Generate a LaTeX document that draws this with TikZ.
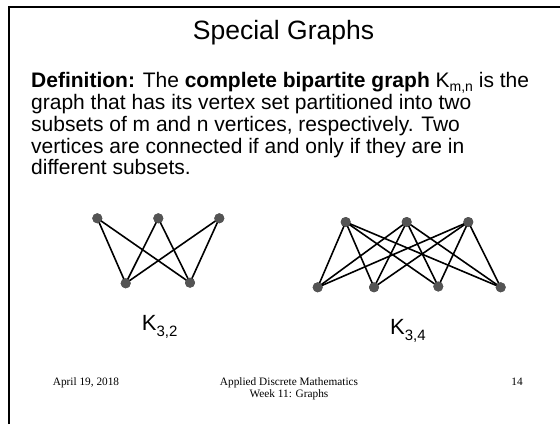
\documentclass[tikz,border=0pt]{standalone}
\usepackage{fontspec}
\setmainfont{Liberation Sans}
\newfontfamily\footserif{Liberation Serif}
\begin{document}
\begin{tikzpicture}[x=1pt,y=-1pt,
  vtx/.style={circle,fill=black!67,inner sep=0pt,minimum size=10pt},
  edge/.style={line width=1.6pt,black},
  bodyline/.style={anchor=base west,inner sep=0pt,font=\fontsize{21}{22}\selectfont},
  footer/.style={anchor=base,inner sep=0pt,font=\footserif\fontsize{11.3}{12}\selectfont},
  klabel/.style={anchor=base west,inner sep=0pt,font=\fontsize{22}{24}\selectfont}]
\useasboundingbox (0,0) rectangle (560,424);
\fill[white] (0,0) rectangle (560,424);
\draw[line width=2pt] (9,424) -- (9,7) -- (560,7);
% title
\node[anchor=base,inner sep=0pt,font=\fontsize{26.5}{28}\selectfont] (title) at (283.5,39.3) {Special Graphs};
% body
\newcommand{\subtxt}[1]{\raisebox{-3.8pt}[0pt][0pt]{\fontsize{14}{15}\selectfont #1}}
\node[bodyline] (l1) at (31,87.7) {\textbf{Definition:} The \textbf{complete bipartite graph} K\subtxt{m,n} is the};
\node[bodyline] (l2) at (31,109.5) {graph that has its vertex set partitioned into two};
\node[bodyline] (l3) at (31,131.3) {subsets of m and n vertices, respectively. Two};
\node[bodyline] (l4) at (31,153.1) {vertices are connected if and only if they are in};
\node[bodyline] (l5) at (31,174.9) {different subsets.};
% K3,2
\node[vtx] (a1) at (97.3,218.3) {};
\node[vtx] (a2) at (158.3,218.3) {};
\node[vtx] (a3) at (219.3,218.3) {};
\node[vtx] (b1) at (125.7,283.3) {};
\node[vtx] (b2) at (190,282.7) {};
\foreach \t in {a1,a2,a3}{\foreach \b in {b1,b2}{\draw[edge] (\t.center) -- (\b.center);}}
\foreach \x/\y in {97.3/218.3,158.3/218.3,219.3/218.3,125.7/283.3,190/282.7}{\fill[black!67] (\x,\y) circle (5);}
\node[klabel] (k32) at (141.7,330) {K\raisebox{-6pt}{\fontsize{15}{16}\selectfont 3,2}};
% K3,4
\node[vtx] (c1) at (345.7,222) {};
\node[vtx] (c2) at (406.7,222) {};
\node[vtx] (c3) at (468.3,222) {};
\node[vtx] (d1) at (317.7,287.3) {};
\node[vtx] (d2) at (374,287.3) {};
\node[vtx] (d3) at (438.3,286.5) {};
\node[vtx] (d4) at (500.7,287.3) {};
\foreach \t in {c1,c2,c3}{\foreach \b in {d1,d2,d3,d4}{\draw[edge] (\t.center) -- (\b.center);}}
\foreach \x/\y in {345.7/222,406.7/222,468.3/222,317.7/287.3,374/287.3,438.3/286.5,500.7/287.3}{\fill[black!67] (\x,\y) circle (5);}
\node[klabel] (k34) at (390,334) {K\raisebox{-6pt}{\fontsize{15}{16}\selectfont 3,4}};
% footer
\node[footer] (date) at (86,385) {April 19, 2018};
\node[footer] (course) at (289,385) {Applied Discrete Mathematics};
\node[footer] (week) at (289,397.5) {Week 11: Graphs};
\node[footer] (page) at (517,385) {14};
\end{tikzpicture}
\end{document}
